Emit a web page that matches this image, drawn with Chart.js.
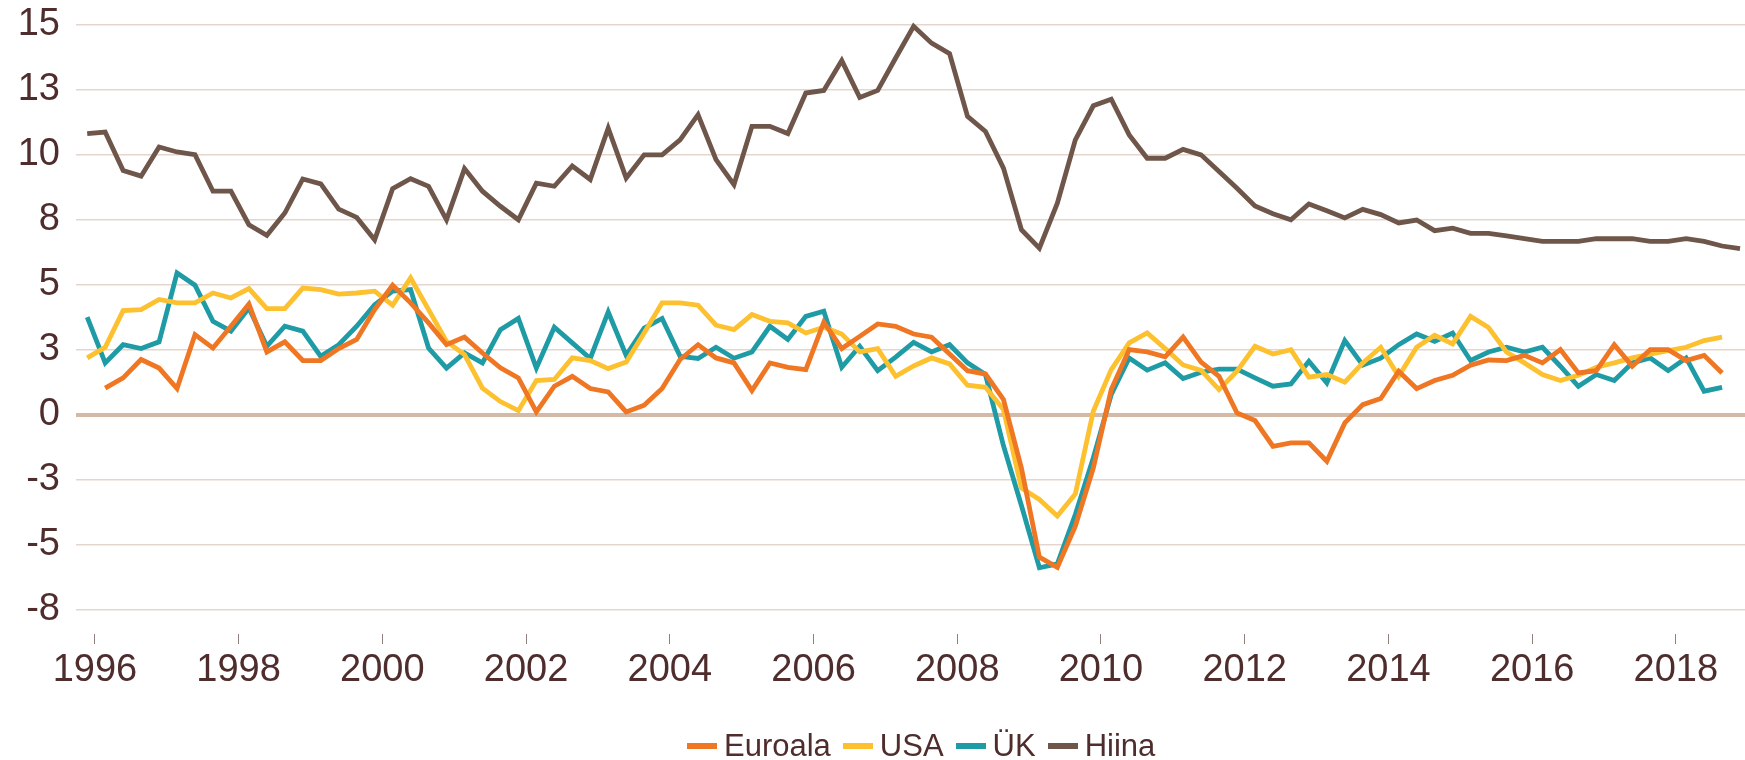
<!DOCTYPE html>
<html lang="et">
<head>
<meta charset="utf-8">
<title>SKP kasv</title>
<script src="https://cdn.jsdelivr.net/npm/chart.js@4.4.1/dist/chart.umd.min.js"></script>
<style>
  html, body { margin: 0; padding: 0; background: #fff; }
  #wrap { position: relative; width: 1745px; height: 760px; overflow: hidden; }
  #legend {
    position: absolute; left: 687px; top: 728px; height: 36px; line-height: 36px;
    display: flex; align-items: center;
    font-family: "Liberation Sans", Arial, sans-serif; font-size: 31px; color: #4f2d2d;
  }
  .item { display: flex; align-items: center; margin-right: 12px; }
  .swatch { width: 30px; height: 6px; margin-right: 7px; }
</style>
</head>
<body>
<div id="wrap">
  <canvas id="growthChart" width="1745" height="760"></canvas>
  <div id="legend"></div>
</div>
<script>
const seriesNames = ["Euroala", "USA", "ÜK", "Hiina"];
const seriesColors = ["#ef7622", "#fdc02f", "#1f9ba6", "#6f564a"];

// quarterly values, 1996 Q1 onwards
const euroala = [null, 1.02, 1.41, 2.12, 1.79, 1.0, 3.08, 2.56, 3.4, 4.26,
  2.41, 2.8, 2.08, 2.08, 2.54, 2.89, 4.04, 4.98, 4.3, 3.53,
  2.69, 2.98, 2.37, 1.8, 1.41, 0.1, 1.09, 1.47, 1.0, 0.87,
  0.1, 0.36, 1.0, 2.12, 2.69, 2.18, 1.99, 0.92, 1.99, 1.82,
  1.73, 3.56, 2.54, 3.01, 3.49, 3.4, 3.1, 2.98, 2.33, 1.69,
  1.56, 0.58, -2.06, -5.49, -5.88, -4.3, -2.06, 0.96, 2.5, 2.41,
  2.22, 2.98, 2.02, 1.47, 0.06, -0.23, -1.22, -1.09, -1.09, -1.8,
  -0.32, 0.38, 0.62, 1.67, 1.0, 1.31, 1.51, 1.9, 2.1, 2.08,
  2.28, 1.99, 2.5, 1.6, 1.69, 2.69, 1.86, 2.5, 2.5, 2.08,
  2.28, 1.6];
const usa = [2.18, 2.59, 4.0, 4.04, 4.43, 4.3, 4.3, 4.68, 4.49, 4.85,
  4.08, 4.08, 4.87, 4.81, 4.64, 4.68, 4.75, 4.21, 5.26, 4.04,
  2.82, 2.31, 1.02, 0.5, 0.15, 1.31, 1.35, 2.18, 2.08, 1.77,
  2.02, 3.14, 4.3, 4.3, 4.21, 3.44, 3.27, 3.85, 3.59, 3.53,
  3.14, 3.36, 3.1, 2.41, 2.54, 1.47, 1.87, 2.18, 1.95, 1.13,
  1.05, 0.19, -2.83, -3.27, -3.91, -3.06, 0.13, 1.73, 2.76, 3.14,
  2.54, 1.91, 1.7, 0.96, 1.67, 2.63, 2.33, 2.5, 1.44, 1.54,
  1.25, 1.99, 2.59, 1.47, 2.59, 3.05, 2.72, 3.78, 3.35, 2.41,
  1.99, 1.54, 1.31, 1.51, 1.82, 1.99, 2.18, 2.33, 2.46, 2.59,
  2.85, 2.98];
const uk = [3.75, 1.99, 2.69, 2.54, 2.8, 5.45, 4.98, 3.59, 3.21, 4.1,
  2.63, 3.4, 3.21, 2.24, 2.69, 3.4, 4.23, 4.75, 4.81, 2.56,
  1.79, 2.37, 1.99, 3.27, 3.7, 1.79, 3.36, 2.76, 2.16, 3.95,
  2.28, 3.33, 3.7, 2.24, 2.16, 2.59, 2.17, 2.41, 3.4, 2.89,
  3.78, 3.98, 1.82, 2.63, 1.69, 2.21, 2.78, 2.41, 2.69, 1.99,
  1.54, -1.2, -3.5, -5.9, -5.75, -3.85, -1.67, 0.77, 2.18, 1.71,
  1.99, 1.39, 1.63, 1.75, 1.75, 1.41, 1.09, 1.18, 2.05, 1.22,
  2.85, 1.9, 2.17, 2.69, 3.1, 2.82, 3.14, 2.08, 2.41, 2.59,
  2.41, 2.59, 1.86, 1.09, 1.54, 1.31, 1.99, 2.18, 1.69, 2.18,
  0.9, 1.05];
const hiina = [10.82, 10.88, 9.4, 9.18, 10.3, 10.11, 10.01, 8.6, 8.6, 7.31,
  6.9, 7.76, 9.07, 8.88, 7.91, 7.59, 6.73, 8.7, 9.08, 8.79,
  7.5, 9.47, 8.6, 8.02, 7.5, 8.91, 8.79, 9.57, 9.05, 11.03,
  9.11, 10.0, 10.0, 10.58, 11.55, 9.82, 8.85, 11.1, 11.1, 10.82,
  12.38, 12.48, 13.63, 12.21, 12.48, 13.73, 14.95, 14.3, 13.9, 11.48,
  10.9, 9.49, 7.12, 6.41, 8.14, 10.58, 11.89, 12.14, 10.77, 9.87,
  9.87, 10.21, 10.0, 9.36, 8.71, 8.03, 7.73, 7.5, 8.11, 7.85,
  7.57, 7.9, 7.7, 7.38, 7.49, 7.08, 7.18, 6.98, 6.98, 6.88,
  6.77, 6.67, 6.67, 6.67, 6.77, 6.77, 6.77, 6.67, 6.67, 6.77,
  6.67, 6.49, 6.39];

const yearTicks = [1996, 1998, 2000, 2002, 2004, 2006, 2008, 2010, 2012, 2014, 2016, 2018];
const valueTicks = [-7.5, -5, -2.5, 0, 2.5, 5, 7.5, 10, 12.5, 15];
const valueTickLabels = ["-8", "-5", "-3", "0", "3", "5", "8", "10", "13", "15"];

const firstQuarter = 1995.893; // where 1996 Q1 sits on the year axis
const textColor = "#4f2d2d";
const fontFamily = '"Liberation Sans", Arial, sans-serif';

function toPoints(values) {
  return values.map((v, i) => ({ x: firstQuarter + i * 0.25, y: v }));
}

const allSeries = [euroala, usa, uk, hiina];

const datasets = allSeries.map((values, i) => ({
  label: seriesNames[i],
  data: toPoints(values),
  borderColor: seriesColors[i],
  backgroundColor: seriesColors[i],
  borderWidth: 4.8,
  borderJoinStyle: "miter",
  borderCapStyle: "butt",
  pointRadius: 0,
  tension: 0,
  clip: false
}));

Chart.defaults.font.family = fontFamily;
Chart.defaults.color = textColor;

const ctx = document.getElementById("growthChart").getContext("2d");
const growthChart = new Chart(ctx, {
  type: "line",
  data: { datasets: datasets },
  options: {
    responsive: false,
    animation: false,
    devicePixelRatio: 1,
    layout: { padding: { top: 25, right: 0, bottom: 0, left: 0 } },
    plugins: {
      legend: { display: false },
      tooltip: { enabled: false }
    },
    scales: {
      x: {
        type: "linear",
        min: 1995.737,
        max: 2018.962,
        afterBuildTicks: scale => {
          scale.ticks = yearTicks.map(v => ({ value: v }));
        },
        afterFit: scale => { scale.height = 126; },
        ticks: {
          font: { size: 38 },
          color: textColor,
          padding: 4,
          maxRotation: 0,
          autoSkip: false,
          callback: value => String(value)
        },
        grid: {
          drawOnChartArea: false,
          drawTicks: true,
          tickLength: 10,
          tickColor: "#8f7f7d",
          tickWidth: 1
        },
        border: { display: false }
      },
      y: {
        min: -8.45,
        max: 15,
        afterBuildTicks: scale => {
          scale.ticks = valueTicks.map(v => ({ value: v }));
        },
        afterFit: scale => {
          scale.width = 76;
          scale.paddingTop = 0;
          scale.paddingBottom = 0;
        },
        ticks: {
          font: { size: 38 },
          color: textColor,
          padding: 16,
          callback: (value, index) => valueTickLabels[index]
        },
        grid: {
          drawTicks: false,
          color: c => (c.tick && c.tick.value === 0 ? "#d3b9a6" : "#e4d6cc"),
          lineWidth: c => (c.tick && c.tick.value === 0 ? 4 : 1.5)
        },
        border: { display: false }
      }
    }
  }
});

// legend under the chart
const legendBox = document.getElementById("legend");
seriesNames.forEach((name, i) => {
  const item = document.createElement("div");
  item.className = "item";
  const swatch = document.createElement("span");
  swatch.className = "swatch";
  swatch.style.background = seriesColors[i];
  const text = document.createElement("span");
  text.textContent = name;
  item.appendChild(swatch);
  item.appendChild(text);
  legendBox.appendChild(item);
});
</script>
</body>
</html>
